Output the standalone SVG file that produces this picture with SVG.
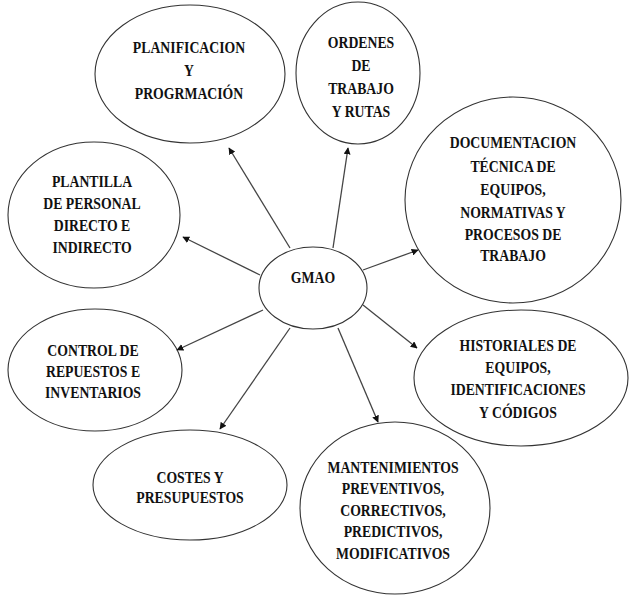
<svg xmlns="http://www.w3.org/2000/svg" width="631" height="595" viewBox="0 0 631 595">
<style>
.n ellipse{fill:#fff;stroke:#333;stroke-width:1.1}
.n text{font-weight:bold;font-size:16px;fill:#111;text-anchor:middle}
.c line{stroke:#444;stroke-width:1.3;marker-end:url(#ah)}
</style>
<defs>
<marker id="ah" viewBox="0 0 10 10" refX="9" refY="5" markerWidth="7" markerHeight="7" markerUnits="userSpaceOnUse" orient="auto">
<path d="M0,0 L10,5 L0,10 z" fill="#111"/>
</marker>
</defs>
<rect width="631" height="595" fill="#fff"/>
<g font-family="'Liberation Serif', 'Times New Roman', serif">
<g id="n-plan" class="n"><ellipse cx="190" cy="74" rx="95" ry="69"/>
<g transform="translate(189 0) scale(0.86 1)"><text x="0" y="53">PLANIFICACION</text><text x="0" y="76">Y</text><text x="0" y="99">PROGRMACIÓN</text></g></g>
<g id="n-ordenes" class="n"><ellipse cx="358" cy="73" rx="62" ry="71"/>
<g transform="translate(361 0) scale(0.86 1)"><text x="0" y="48.5">ORDENES</text><text x="0" y="71.5">DE</text><text x="0" y="94.5">TRABAJO</text><text x="0" y="117.5">Y RUTAS</text></g></g>
<g id="n-doc" class="n"><ellipse cx="513" cy="200" rx="108" ry="103"/>
<g transform="translate(513 0) scale(0.86 1)"><text x="0" y="148.5">DOCUMENTACION</text><text x="0" y="172">TÉCNICA DE</text><text x="0" y="195">EQUIPOS,</text><text x="0" y="218">NORMATIVAS Y</text><text x="0" y="240">PROCESOS DE</text><text x="0" y="261">TRABAJO</text></g></g>
<g id="n-plantilla" class="n"><ellipse cx="94" cy="215" rx="86" ry="73"/>
<g transform="translate(92 0) scale(0.86 1)"><text x="0" y="187.5">PLANTILLA</text><text x="0" y="209">DE PERSONAL</text><text x="0" y="231">DIRECTO E</text><text x="0" y="253">INDIRECTO</text></g></g>
<g id="n-gmao" class="n"><ellipse cx="313" cy="288" rx="54" ry="41"/>
<g transform="translate(313 0) scale(0.86 1)"><text x="0" y="283">GMAO</text></g></g>
<g id="n-control" class="n"><ellipse cx="95" cy="370" rx="87" ry="61"/>
<g transform="translate(93 0) scale(0.86 1)"><text x="0" y="356">CONTROL DE</text><text x="0" y="377">REPUESTOS E</text><text x="0" y="398">INVENTARIOS</text></g></g>
<g id="n-hist" class="n"><ellipse cx="521" cy="378" rx="107" ry="68"/>
<g transform="translate(518 0) scale(0.86 1)"><text x="0" y="351">HISTORIALES DE</text><text x="0" y="373">EQUIPOS,</text><text x="0" y="395.5">IDENTIFICACIONES</text><text x="0" y="418">Y CÓDIGOS</text></g></g>
<g id="n-costes" class="n"><ellipse cx="190" cy="485" rx="97" ry="55"/>
<g transform="translate(190 0) scale(0.86 1)"><text x="0" y="483">COSTES Y</text><text x="0" y="503">PRESUPUESTOS</text></g></g>
<g id="n-mant" class="n"><ellipse cx="395" cy="508" rx="95" ry="86"/>
<g transform="translate(393 0) scale(0.86 1)"><text x="0" y="473">MANTENIMIENTOS</text><text x="0" y="494">PREVENTIVOS,</text><text x="0" y="516">CORRECTIVOS,</text><text x="0" y="537">PREDICTIVOS,</text><text x="0" y="559">MODIFICATIVOS</text></g></g>
</g>
<g id="connectors" class="c">
<line x1="290" y1="248" x2="229" y2="148"/>
<line x1="333" y1="248" x2="348" y2="148"/>
<line x1="363" y1="270" x2="418" y2="250"/>
<line x1="260" y1="275" x2="183" y2="237"/>
<line x1="263" y1="310" x2="177" y2="350"/>
<line x1="363" y1="305" x2="417" y2="348"/>
<line x1="290" y1="328" x2="220" y2="429"/>
<line x1="338" y1="328" x2="378" y2="422"/>
</g>
</svg>
